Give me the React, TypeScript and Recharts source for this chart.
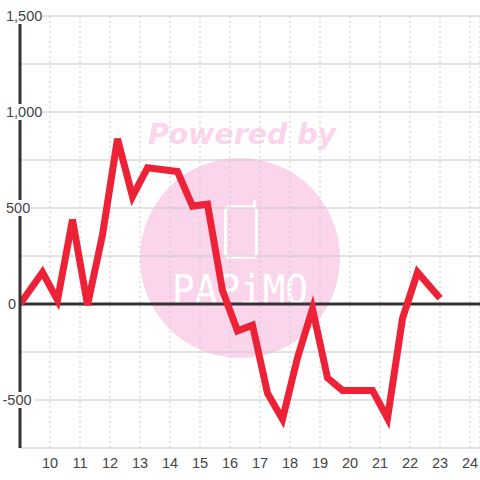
import { CartesianGrid, Line, LineChart, ReferenceLine, XAxis, YAxis } from "recharts";

const HOURS = [9, 9.75, 10.25, 10.75, 11.25, 11.75, 12.25, 12.75, 13.25, 14.25, 14.75, 15.25, 15.75, 16.25, 16.75, 17.25, 17.75, 18.25, 18.75, 19.25, 19.75, 20.75, 21.25, 21.75, 22.25, 23];
const VALUES = [0, 165, 20, 440, -5, 360, 860, 560, 710, 690, 510, 520, 70, -140, -110, -465, -600, -280, -25, -385, -450, -450, -595, -75, 165, 30];
const X_TICKS = [10, 11, 12, 13, 14, 15, 16, 17, 18, 19, 20, 21, 22, 23, 24];
const Y_TICKS = [-750, -500, -250, 0, 250, 500, 750, 1000, 1250, 1500];

const data = HOURS.map((hour, i) => ({ hour, value: VALUES[i] }));

const FONT = '"Liberation Sans", Arial, sans-serif';
const PINK = "#fbd5ec";

function YTick({ y, payload }: any) {
  const value = payload.value as number;
  if (value % 500 !== 0) return null;
  const label = value.toLocaleString("en-US");
  const width = label.length * 7.9 - (label.includes(",") ? 4 : 0);
  const x = value < 0 ? 2.5 : value === 0 ? 8 : 6;
  return (
    <g>
      <rect x={x - 1} y={y - 8} width={width + 2} height={16} fill="#fff" />
      <text x={x} y={y + 5} fontSize={14.5} fontFamily={FONT} fill="#444">
        {label}
      </text>
    </g>
  );
}

function Watermark() {
  return (
    <svg width={480} height={480} style={{ position: "absolute", left: 0, top: 0 }}>
      <circle cx={240} cy={258} r={100} fill={PINK} />
      <text
        x={148}
        y={144}
        fontSize={29}
        fontWeight="bold"
        fontStyle="italic"
        fontFamily='"DejaVu Sans", sans-serif'
        fill={PINK}
        textLength={188}
        lengthAdjust="spacingAndGlyphs"
      >
        Powered by
      </text>
      <rect x={225.5} y={207} width={31} height={50} rx={4} fill="none" stroke="#fff" strokeWidth={3} />
      <line x1={254.5} y1={207} x2={254.5} y2={201} stroke="#fff" strokeWidth={3} strokeLinecap="round" />
      <text
        x={172}
        y={304}
        fontSize={40}
        fontFamily='"DejaVu Sans Mono", monospace'
        fill="#fff"
        textLength={136}
        lengthAdjust="spacingAndGlyphs"
      >
        PAPiMO
      </text>
    </svg>
  );
}

export default function App() {
  return (
    <div style={{ position: "absolute", left: 0, top: 0, width: 480, height: 480, background: "#fff" }}>
      <Watermark />
      <LineChart
        width={480}
        height={480}
        data={data}
        margin={{ top: 16, right: 0, bottom: 0, left: 0 }}
        style={{ position: "absolute", left: 0, top: 0 }}
      >
        <CartesianGrid horizontal vertical={false} stroke="#c8c8c8" strokeWidth={1} />
        <CartesianGrid horizontal={false} vertical stroke="#c8c8c8" strokeWidth={1} strokeDasharray="2 3" />
        <XAxis
          type="number"
          dataKey="hour"
          height={32}
          domain={[9, 24.333]}
          ticks={X_TICKS}
          allowDataOverflow
          axisLine={false}
          tickLine={false}
          tickMargin={4}
          interval={0}
          tick={{ fontSize: 14.5, fontFamily: FONT, fill: "#444" }}
        />
        <YAxis
          width={20}
          domain={[-750, 1500]}
          ticks={Y_TICKS}
          interval={0}
          tickLine={false}
          axisLine={{ stroke: "#333", strokeWidth: 3 }}
          tick={<YTick />}
        />
        <ReferenceLine y={0} stroke="#333" strokeWidth={3} />
        <Line
          dataKey="value"
          type="linear"
          stroke="#ee2236"
          strokeWidth={7}
          strokeLinejoin="miter"
          strokeLinecap="butt"
          dot={false}
          activeDot={false}
          isAnimationActive={false}
        />
      </LineChart>
    </div>
  );
}
